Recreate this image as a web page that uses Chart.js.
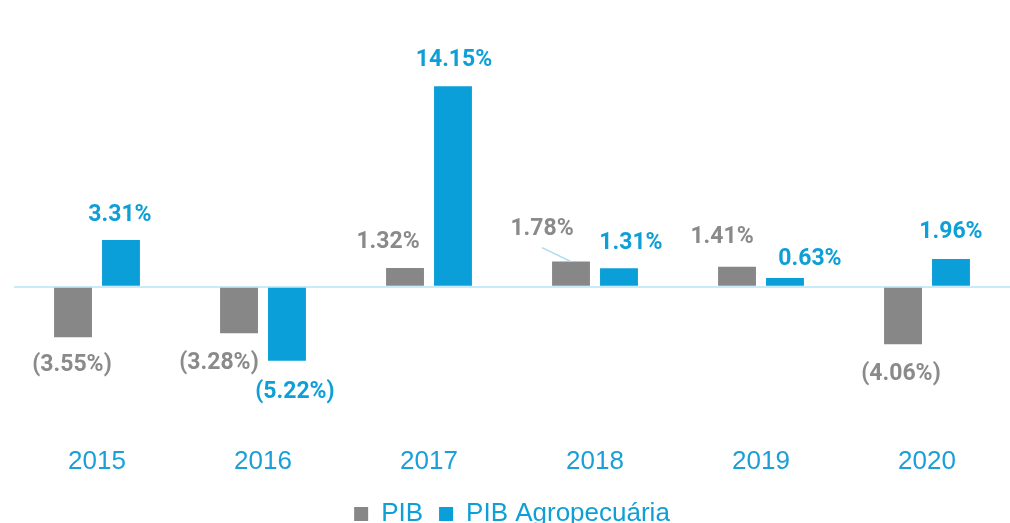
<!DOCTYPE html>
<html lang="pt">
<head>
  <meta charset="UTF-8">
  <title>PIB x PIB Agropecuária</title>
  <style>
    html, body { margin: 0; padding: 0; background: #fff; overflow: hidden; }
    .wrap { width: 1010px; height: 537px; }
  </style>
  <script src="https://cdn.jsdelivr.net/npm/chart.js"></script>
</head>
<body>
  <div class="wrap"><canvas id="pibChart" width="1010" height="537"></canvas></div>
  <script>
    // data
    const years = ['2015', '2016', '2017', '2018', '2019', '2020'];
    const pib = [-3.55, -3.28, 1.32, 1.78, 1.41, -4.06];
    const pibAgro = [3.31, -5.22, 14.15, 1.31, 0.63, 1.96];

    const GRAY = '#878787';
    const BLUE = '#0a9fd8';

    // label nudges (px) so the value labels sit like in the original
    const labelDx = [[-1, -20, -17, -29, -15, -2], [-1, 8, 1, 12, 25, 0]];
    const labelGap = [[28, 30, 26, 32, 30, 30], [25, 31, 26, 25, 19, 27]];
    const labelColor = ['#8a8a8a', '#0e9fd6'];
    const leader = [[false, false, false, true, false, false], [false, false, false, false, false, false]];

    const fmt = v => v < 0 ? '(' + Math.abs(v).toFixed(2) + '%)' : v.toFixed(2) + '%';

    const valueLabels = {
      id: 'valueLabels',
      afterDatasetsDraw(chart) {
        const ctx = chart.ctx;
        ctx.save();
        ctx.font = 'bold 23px Roboto, "Liberation Sans", sans-serif';
        ctx.textAlign = 'center';
        ctx.textBaseline = 'middle';
        chart.data.datasets.forEach((ds, di) => {
          chart.getDatasetMeta(di).data.forEach((bar, i) => {
            const v = ds.data[i];
            const up = v >= 0;
            const x = bar.x + labelDx[di][i];
            const y = up ? bar.y - labelGap[di][i] : bar.y + labelGap[di][i];
            if (leader[di][i]) {
              ctx.strokeStyle = '#a8dcf2';
              ctx.lineWidth = 1.5;
              ctx.beginPath();
              ctx.moveTo(x, y + 18);
              ctx.lineTo(bar.x, bar.y);
              ctx.stroke();
            }
            ctx.fillStyle = labelColor[di];
            ctx.fillText(fmt(v), x, y);
          });
        });
        ctx.restore();
      }
    };

    new Chart(document.getElementById('pibChart'), {
      type: 'bar',
      data: {
        labels: years,
        datasets: [
          { label: 'PIB', data: pib, backgroundColor: GRAY, categoryPercentage: 0.578, barPercentage: 0.79 },
          { label: 'PIB Agropecuária', data: pibAgro, backgroundColor: BLUE, categoryPercentage: 0.578, barPercentage: 0.79 }
        ]
      },
      options: {
        responsive: false,
        animation: false,
        layout: { padding: { left: 14, right: 0, top: 30, bottom: 0 } },
        plugins: {
          tooltip: { enabled: false },
          legend: {
            position: 'bottom',
            labels: {
              color: '#0e9fd6',
              font: { family: '"Liberation Sans", Arial, sans-serif', size: 26 },
              boxWidth: 14,
              boxHeight: 14,
              padding: 16
            }
          }
        },
        scales: {
          x: {
            grid: { display: false },
            border: { display: false },
            ticks: {
              color: '#1a9fd8',
              font: { family: '"Liberation Sans", Arial, sans-serif', size: 26 },
              padding: 13
            },
            afterFit(s) { s.height = 60; }
          },
          y: {
            min: -9.75,
            max: 18.12,
            ticks: { display: false, stepSize: 5 },
            border: { display: false },
            grid: {
              drawTicks: false,
              lineWidth: 2,
              color: c => c.tick && c.tick.value === 0 ? '#c9ebf9' : 'rgba(0,0,0,0)'
            }
          }
        }
      },
      plugins: [valueLabels]
    });
  </script>
</body>
</html>
